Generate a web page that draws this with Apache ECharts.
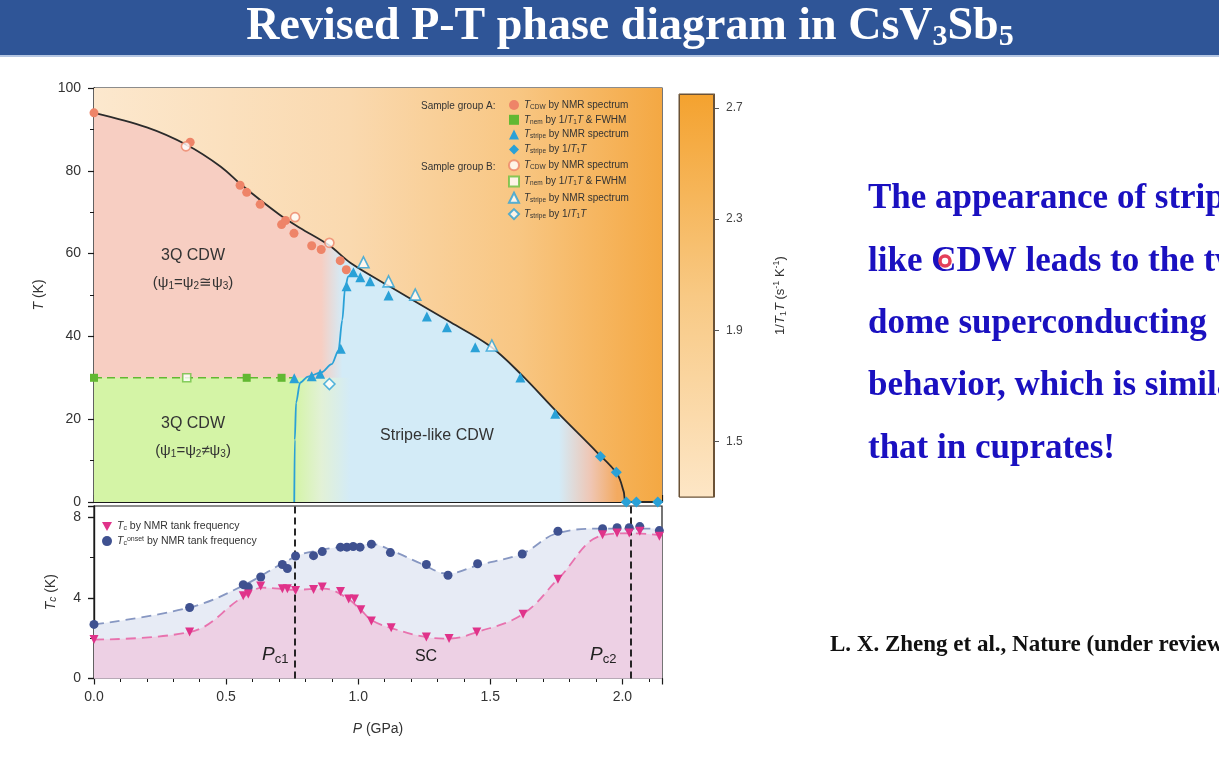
<!DOCTYPE html>
<html><head><meta charset="utf-8">
<script src="https://cdn.jsdelivr.net/npm/echarts@6/dist/echarts.min.js"></script>
<style>html,body{margin:0;padding:0;background:#fff}#c{width:1219px;height:763px}</style>
</head><body><div id="c"></div>
<script>
// ---------------- DATA ----------------
const P_MAX = 2.15;
// Upper panel (P in GPa, T in K)
const aCdw = [[0,94],[0.364,86.9],[0.553,76.5],[0.578,74.8],[0.629,71.9],[0.71,67.0],[0.725,68.0],[0.757,64.9],[0.824,61.9],[0.86,61.0],[0.932,58.3],[0.955,56.1]];
const bCdw = [[0.348,85.9],[0.761,68.8],[0.891,62.6]];
const aNem = [[0,30],[0.578,30],[0.71,30]];
const bNem = [[0.351,30]];
const aStrNmr = [[0.758,29.9],[0.824,30.4],[0.856,31],[0.934,37],[0.956,52.1],[0.982,55.5],[1.008,54.3],[1.045,53.3],[1.115,49.9],[1.26,44.8],[1.336,42.2],[1.443,37.4],[1.614,30.1],[1.746,21.3]];
const aStrT1 = [[1.917,11.0],[1.977,7.2],[2.015,0],[2.053,0],[2.134,0]];
const bStrNmr = [[1.02,57.9],[1.115,53.3],[1.216,50.1],[1.506,37.8]];
const bStrT1 = [[0.891,28.5]];
// guide curves
const cdwFit = [[0,94],[0.2,90.5],[0.35,86.3],[0.48,81],[0.56,76.5],[0.7,69.5],[0.78,66.2],[0.89,62],[0.97,57.8],[1.11,52.4],[1.35,43.4],[1.5,37.6],[1.614,31],[1.753,21.7],[1.904,12],[1.98,6.8],[2.005,2.5],[2.015,0],[2.15,0]];
const nemFit = [[0,30],[0.76,30]];
const stripeFit = [[0.758,0],[0.76,15],[0.765,24],[0.78,28.8],[0.81,30.3],[0.86,31.3],[0.9,33.3],[0.925,36.5],[0.94,44],[0.95,51.5],[0.962,54.5],[0.98,56]];
const bgSpan = [[0,100],[2.15,100]];
const nemSpan = [[0,30],[1.0,30]];
// Lower panel (Tc in K)
const tcOnset = [[0,2.68],[0.362,3.52],[0.565,4.65],[0.584,4.53],[0.631,5.03],[0.713,5.65],[0.732,5.45],[0.763,6.07],[0.831,6.09],[0.864,6.29],[0.933,6.51],[0.957,6.51],[0.981,6.54],[1.007,6.51],[1.05,6.66],[1.122,6.24],[1.258,5.65],[1.34,5.12],[1.452,5.69],[1.621,6.17],[1.756,7.3],[1.925,7.42],[1.98,7.47],[2.026,7.47],[2.066,7.53],[2.14,7.33]];
const tc = [[0,1.93],[0.362,2.3],[0.565,4.1],[0.584,4.19],[0.631,4.58],[0.713,4.45],[0.732,4.45],[0.763,4.36],[0.831,4.41],[0.864,4.53],[0.933,4.31],[0.964,3.94],[0.986,3.94],[1.01,3.41],[1.05,2.85],[1.125,2.52],[1.258,2.06],[1.344,1.98],[1.449,2.3],[1.624,3.19],[1.756,4.92],[1.925,7.13],[1.98,7.21],[2.026,7.21],[2.066,7.3],[2.14,7.05]];
const onsetFit = [[0,2.68],[0.362,3.52],[0.565,4.61],[0.763,6.04],[0.864,6.38],[0.978,6.59],[1.05,6.66],[1.136,6.29],[1.237,5.70],[1.34,5.2],[1.452,5.61],[1.621,6.2],[1.756,7.21],[1.925,7.43],[2.15,7.43]];
const tcFit = [[0,1.93],[0.362,2.3],[0.565,4.05],[0.64,4.5],[0.76,4.4],[0.87,4.45],[0.95,4.05],[1.01,3.4],[1.05,2.9],[1.125,2.5],[1.26,2.05],[1.34,1.98],[1.45,2.3],[1.624,3.2],[1.756,4.92],[1.925,7.1],[2.03,7.2],[2.15,7.1]];
const pcLines = [0.76, 2.03];
// colour bar
const cbRange = [1.3, 2.75];
const cbTicks = [1.5, 1.9, 2.3, 2.7];

// ---------------- STYLE ----------------
const SANS = 'Liberation Sans, Arial, sans-serif';
const SERIF = 'Liberation Serif, Times New Roman, serif';
const INK = '#1a1a1a';
const C_SALMON = '#EE8468', C_GREEN = '#62B832', C_BLUE = '#2AA1D7';
const C_NAVY = '#3F5190', C_PINK = '#E0338A';
const lin = (stops, vertical) => ({type:'linear', x:0, y:0, x2: vertical?0:1, y2: vertical?1:0,
  colorStops: stops.map(s => ({offset:s[0], color:s[1]}))});
const pf = p => p / P_MAX;

const richLeg = {
  t:{fontSize:10, color:'#333', fontFamily:SANS, lineHeight:11},
  i:{fontSize:10, color:'#333', fontStyle:'italic', fontFamily:SANS, lineHeight:11},
  s:{fontSize:6.5, color:'#333', fontFamily:SANS, lineHeight:11, verticalAlign:'bottom'},
  p:{fontSize:6.5, color:'#333', fontFamily:SANS, lineHeight:11, verticalAlign:'top'}
};
const legTxt = {
  A1:'{i|T}{s|CDW}{t| by NMR spectrum}', B1:'{i|T}{s|CDW}{t| by NMR spectrum}',
  A2:'{i|T}{s|nem}{t| by 1/}{i|T}{s|1}{i|T}{t| & FWHM}', B2:'{i|T}{s|nem}{t| by 1/}{i|T}{s|1}{i|T}{t| & FWHM}',
  A3:'{i|T}{s|stripe}{t| by NMR spectrum}', B3:'{i|T}{s|stripe}{t| by NMR spectrum}',
  A4:'{i|T}{s|stripe}{t| by 1/}{i|T}{s|1}{i|T}', B4:'{i|T}{s|stripe}{t| by 1/}{i|T}{s|1}{i|T}',
  Tc:'{i|T}{s|c}{t| by NMR tank frequency}', Tcon:'{i|T}{s|c}{p|onset}{t| by NMR tank frequency}'
};

function scatter(name, data, symbol, size, color, open, extra) {
  return Object.assign({
    name, type:'scatter', xAxisIndex:0, yAxisIndex:0, data, symbol, symbolSize:size, z:5,
    itemStyle: open ? {color:'#fff', borderColor:color, borderWidth:1.6} : {color, opacity:1},
    emphasis:{disabled:true}
  }, extra || {});
}
const txt = (x, y, style) => ({type:'text', x, y, z:100, silent:true, style});

const axisLine = {show:true, lineStyle:{color:INK, width:1.2}};
const tickStyle = {color:INK, width:1.2};
const labelStyle = {color:'#333', fontSize:14, fontFamily:SANS};

const option = {
  animation:false,
  backgroundColor:'#fff',
  grid:[
    {left:94, top:88, width:568, height:414, show:true, borderColor:INK, borderWidth:1.2, backgroundColor:'transparent'},
    {left:94, top:506, width:568, height:172.5, show:true, borderColor:INK, borderWidth:1.2, backgroundColor:'#fff'},
    {left:679, top:94, width:35, height:403, show:true, borderColor:'#6b5236', borderWidth:1}
  ],
  xAxis:[
    {gridIndex:0, type:'value', min:0, max:P_MAX, interval:0.5, axisLine,
     axisTick:{show:true, inside:true, length:7, lineStyle:tickStyle},
     minorTick:{show:true, splitNumber:5, length:4, lineStyle:{color:INK, width:1}},
     axisLabel:{show:false}, splitLine:{show:false}},
    {gridIndex:0, type:'value', position:'top', min:0, max:P_MAX, axisLine, axisTick:{show:false}, axisLabel:{show:false}, splitLine:{show:false}},
    {gridIndex:1, type:'value', min:0, max:P_MAX, interval:0.5, axisLine,
     axisTick:{show:true, length:6, lineStyle:tickStyle},
     minorTick:{show:true, splitNumber:5, length:3.5, lineStyle:{color:INK, width:1}},
     axisLabel:Object.assign({margin:12, showMaxLabel:false, formatter:v=>v.toFixed(1)}, labelStyle),
     splitLine:{show:false},
     name:'{i|P}{n| (GPa)}', nameLocation:'middle', nameGap:44,
     nameTextStyle:{rich:{i:{fontSize:14, fontStyle:'italic', color:'#333', fontFamily:SANS}, n:{fontSize:14, color:'#333', fontFamily:SANS}}}},
    {gridIndex:1, type:'value', position:'top', min:0, max:P_MAX, axisLine, axisTick:{show:false}, axisLabel:{show:false}, splitLine:{show:false}},
    {gridIndex:2, type:'category', data:['cb'], show:false}
  ],
  yAxis:[
    {gridIndex:0, type:'value', min:0, max:100, interval:20, axisLine,
     axisTick:{show:true, length:6, lineStyle:tickStyle},
     minorTick:{show:true, splitNumber:2, length:4, lineStyle:{color:INK, width:1}},
     axisLabel:Object.assign({margin:13}, labelStyle), splitLine:{show:false},
     name:'{i|T}{n| (K)}', nameLocation:'middle', nameGap:48, nameRotate:90,
     nameTextStyle:{rich:{i:{fontSize:14, fontStyle:'italic', color:'#333', fontFamily:SANS}, n:{fontSize:14, color:'#333', fontFamily:SANS}}}},
    {gridIndex:0, type:'value', position:'right', min:0, max:100, axisLine, axisTick:{show:false}, axisLabel:{show:false}, splitLine:{show:false}},
    {gridIndex:1, type:'value', min:0, max:8.55, interval:4, axisLine,
     axisTick:{show:true, length:6, lineStyle:tickStyle},
     minorTick:{show:true, splitNumber:2, length:4, lineStyle:{color:INK, width:1}},
     axisLabel:Object.assign({margin:13, showMaxLabel:false}, labelStyle), splitLine:{show:false},
     name:'{i|T}{s|c}{n| (K)}', nameLocation:'middle', nameGap:36, nameRotate:90,
     nameTextStyle:{rich:{i:{fontSize:14, fontStyle:'italic', color:'#333', fontFamily:SANS}, s:{fontSize:10, fontStyle:'italic', color:'#333', fontFamily:SANS, verticalAlign:'bottom'}, n:{fontSize:14, color:'#333', fontFamily:SANS}}}},
    {gridIndex:1, type:'value', position:'right', min:0, max:8.55, interval:4, axisLine,
     axisTick:{show:true, inside:true, length:6, lineStyle:tickStyle},
     minorTick:{show:true, splitNumber:2, length:4, lineStyle:{color:INK, width:1}},
     axisLabel:{show:false}, splitLine:{show:false}},
    {gridIndex:2, type:'value', position:'right', min:cbRange[0], max:cbRange[1],
     axisLine:{show:true, lineStyle:{color:'#6b5236', width:1}},
     axisTick:{show:true, length:5, customValues:cbTicks, lineStyle:{color:'#555', width:1}},
     axisLabel:{customValues:cbTicks, margin:12, color:'#444', fontSize:12, fontFamily:SANS, formatter:v=>v.toFixed(1)},
     splitLine:{show:false},
     name:'{n|1/}{i|T}{s|1}{i|T}{n| (s}{p|-1}{n| K}{p|-1}{n|)}', nameLocation:'middle', nameGap:58, nameRotate:90,
     nameTextStyle:{rich:{
       n:{fontSize:13, color:'#333', fontFamily:SANS, lineHeight:16},
       i:{fontSize:13, fontStyle:'italic', color:'#333', fontFamily:SANS, lineHeight:16},
       s:{fontSize:9, color:'#333', fontFamily:SANS, verticalAlign:'bottom', lineHeight:16},
       p:{fontSize:9, color:'#333', fontFamily:SANS, verticalAlign:'top', lineHeight:16}}}}
  ],
  legend:[
    {top:100, left:508, orient:'vertical', itemWidth:10, itemHeight:10, itemGap:4.3, padding:0, selectedMode:false,
     data:['A1','A2','A3','A4','B1','B2','B3','B4'], formatter:n=>legTxt[n], textStyle:{rich:richLeg}},
    {top:521, left:102, orient:'vertical', itemWidth:10, itemHeight:10, itemGap:3.6, padding:0, selectedMode:false,
     data:['Tc','Tcon'], formatter:n=>legTxt[n],
     textStyle:{rich:{
       t:{fontSize:10.5, color:'#333', fontFamily:SANS, lineHeight:11},
       i:{fontSize:10.5, color:'#333', fontStyle:'italic', fontFamily:SANS, lineHeight:11},
       s:{fontSize:7, color:'#333', fontFamily:SANS, lineHeight:11, verticalAlign:'bottom'},
       p:{fontSize:7, color:'#333', fontFamily:SANS, lineHeight:11, verticalAlign:'top'}}}}
  ],
  series:[
    // background of upper panel
    {type:'line', xAxisIndex:0, yAxisIndex:0, data:bgSpan, symbol:'none', silent:true, z:1,
     lineStyle:{width:0}, areaStyle:{opacity:1, color:lin([[0,'#FCE8CE'],[0.45,'#FAD9AF'],[0.75,'#F8C682'],[1,'#F4A843']])}},
    // CDW transition curve + region under it
    {type:'line', xAxisIndex:0, yAxisIndex:0, data:cdwFit, symbol:'none', smooth:0.35, silent:true, z:2,
     lineStyle:{color:'#2b2b2b', width:1.8},
     areaStyle:{opacity:1, color:lin([[0,'#F7CEC2'],[pf(0.86),'#F7CEC2'],[pf(0.94),'#D3EBF7'],[pf(1.76),'#D3EBF7'],[pf(1.88),'#EFC6B4'],[pf(1.98),'#F3AA60'],[1,'#F3AA60']])}},
    // nematic (low-T 3Q) region
    {type:'line', xAxisIndex:0, yAxisIndex:0, data:nemSpan, symbol:'none', silent:true, z:3,
     lineStyle:{width:0}, areaStyle:{opacity:1, color:lin([[0,'#D4F4A6'],[0.76,'#D4F4A6'],[0.86,'#E2F1D6'],[0.97,'#D3EBF7'],[1,'#D3EBF7']])}},
    {type:'line', xAxisIndex:0, yAxisIndex:0, data:nemFit, symbol:'none', silent:true, z:4,
     lineStyle:{color:C_GREEN, width:1.6, type:[8,5]}},
    {type:'line', xAxisIndex:0, yAxisIndex:0, data:stripeFit, symbol:'none', smooth:0.3, smoothMonotone:'x', silent:true, z:4,
     lineStyle:{color:C_BLUE, width:1.8}},
    scatter('A1', aCdw, 'circle', 9, C_SALMON, false),
    scatter('A2', aNem, 'rect', 8, C_GREEN, false),
    scatter('A3', aStrNmr, 'triangle', 10, C_BLUE, false),
    scatter('A4', aStrT1, 'diamond', 11, C_BLUE, false),
    scatter('B1', bCdw, 'circle', 9, C_SALMON, true),
    scatter('B2', bNem, 'rect', 8, '#6CC040', true),
    scatter('B3', bStrNmr, 'triangle', 11, C_BLUE, true),
    scatter('B4', bStrT1, 'diamond', 11, C_BLUE, true),
    // lower panel
    {type:'line', xAxisIndex:2, yAxisIndex:2, data:onsetFit, symbol:'none', smooth:0.4, silent:true, z:2,
     lineStyle:{color:'#8797C2', width:1.8, type:[10,6]}, areaStyle:{opacity:1, color:'#E7EBF5'}},
    {type:'line', xAxisIndex:2, yAxisIndex:2, data:tcFit, symbol:'none', smooth:0.4, silent:true, z:3,
     lineStyle:{color:'#E872AE', width:1.8, type:[10,6]}, areaStyle:{opacity:1, color:'#EDD0E4'}},
    scatter('Tcon', tcOnset, 'circle', 9, C_NAVY, false, {xAxisIndex:2, yAxisIndex:2}),
    scatter('Tc', tc, 'path://M0,0 L10,0 L5,9 Z', 9, C_PINK, false, {xAxisIndex:2, yAxisIndex:2,
      markLine:{silent:true, symbol:'none', label:{show:false}, lineStyle:{color:'#111', type:[7,4], width:1.8},
        data: pcLines.map(v => ({xAxis:v}))}}),
    // colour bar
    {type:'bar', xAxisIndex:4, yAxisIndex:4, data:[cbRange[1]], barWidth:'100%', silent:true,
     itemStyle:{color:lin([[0,'#F4A22F'],[0.5,'#F8C984'],[1,'#FDE6C6']], true), borderColor:'#6b5236', borderWidth:1}}
  ],
  graphic:[
    {type:'rect', z:90, shape:{x:0, y:0, width:1219, height:55}, style:{fill:'#2F5597'}, silent:true},
    {type:'rect', z:90, shape:{x:0, y:55, width:1219, height:2}, style:{fill:'#B5C6E2'}, silent:true},
    txt(630, 27, {
      text:'{a|Revised P-T phase diagram in CsV}{b|3}{a|Sb}{b|5}', align:'center', verticalAlign:'middle',
      rich:{a:{fontSize:46, fontWeight:'bold', fontFamily:SERIF, fill:'#fff', lineHeight:50},
            b:{fontSize:30, fontWeight:'bold', fontFamily:SERIF, fill:'#fff', lineHeight:50, verticalAlign:'bottom', padding:[16,0,0,0]}}}),
    // legend group headers
    txt(421, 106, {text:'Sample group A:', fontSize:10, fontFamily:SANS, fill:'#333', verticalAlign:'middle'}),
    txt(421, 167, {text:'Sample group B:', fontSize:10, fontFamily:SANS, fill:'#333', verticalAlign:'middle'}),
    // region labels
    txt(193, 256, {text:'3Q CDW', fontSize:16, fontFamily:SANS, fill:'#333', align:'center', verticalAlign:'middle'}),
    txt(193, 283, {text:'(ψ{s|1}=ψ{s|2}≅ψ{s|3})', fontSize:15, fontFamily:SANS, fill:'#333', align:'center', verticalAlign:'middle',
      rich:{s:{fontSize:10, fontFamily:SANS, fill:'#333', verticalAlign:'bottom', padding:[6,0,0,0]}}}),
    txt(193, 424, {text:'3Q CDW', fontSize:16, fontFamily:SANS, fill:'#333', align:'center', verticalAlign:'middle'}),
    txt(193, 451, {text:'(ψ{s|1}=ψ{s|2}≠ψ{s|3})', fontSize:15, fontFamily:SANS, fill:'#333', align:'center', verticalAlign:'middle',
      rich:{s:{fontSize:10, fontFamily:SANS, fill:'#333', verticalAlign:'bottom', padding:[6,0,0,0]}}}),
    txt(437, 436, {text:'Stripe-like CDW', fontSize:16, fontFamily:SANS, fill:'#333', align:'center', verticalAlign:'middle'}),
    // lower panel labels
    txt(262, 655, {text:'{i|P}{s|c1}', verticalAlign:'middle',
      rich:{i:{fontSize:19, fontStyle:'italic', fontFamily:SANS, fill:'#222'}, s:{fontSize:13, fontFamily:SANS, fill:'#222', verticalAlign:'bottom', padding:[8,0,0,0]}}}),
    txt(426, 657, {text:'SC', fontSize:16, fontFamily:SANS, fill:'#222', align:'center', verticalAlign:'middle'}),
    txt(590, 655, {text:'{i|P}{s|c2}', verticalAlign:'middle',
      rich:{i:{fontSize:19, fontStyle:'italic', fontFamily:SANS, fill:'#222'}, s:{fontSize:13, fontFamily:SANS, fill:'#222', verticalAlign:'bottom', padding:[8,0,0,0]}}}),
    // slide text
    txt(868, 199, {text:'The appearance of stripe-', fontSize:35, fontWeight:'bold', fontFamily:SERIF, fill:'#1A10C0', verticalAlign:'middle'}),
    txt(868, 262, {text:'like CDW leads to the two-', fontSize:35, fontWeight:'bold', fontFamily:SERIF, fill:'#1A10C0', verticalAlign:'middle'}),
    txt(868, 324, {text:'dome superconducting', fontSize:35, fontWeight:'bold', fontFamily:SERIF, fill:'#1A10C0', verticalAlign:'middle'}),
    txt(868, 386, {text:'behavior, which is similar to', fontSize:35, fontWeight:'bold', fontFamily:SERIF, fill:'#1A10C0', verticalAlign:'middle'}),
    txt(868, 449, {text:'that in cuprates!', fontSize:35, fontWeight:'bold', fontFamily:SERIF, fill:'#1A10C0', verticalAlign:'middle'}),
    {type:'circle', z:101, shape:{cx:945, cy:261, r:5}, style:{fill:'#fff', stroke:'#E5405A', lineWidth:3.5}, silent:true},
    txt(830, 645, {text:'L. X. Zheng et al., Nature (under review)', fontSize:23, fontWeight:'bold', fontFamily:SERIF, fill:'#111', verticalAlign:'middle'})
  ]
};
const chart = echarts.init(document.getElementById('c'), null, {renderer:'canvas'});
chart.setOption(option);
</script></body></html>
